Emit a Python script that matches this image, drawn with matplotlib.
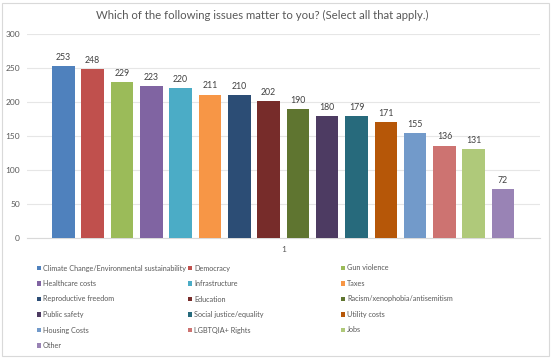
import matplotlib
matplotlib.use("Agg")
import matplotlib.pyplot as plt
from matplotlib.patches import Rectangle

categories = ["Climate Change/Environmental sustainability", "Democracy", "Gun violence",
              "Healthcare costs", "Infrastructure", "Taxes",
              "Reproductive freedom", "Education", "Racism/xenophobia/antisemitism",
              "Public safety", "Social justice/equality", "Utility costs",
              "Housing Costs", "LGBTQIA+ Rights", "Jobs", "Other"]
values = [253, 248, 229, 223, 220, 211, 210, 202, 190, 180, 179, 171, 155, 136, 131, 72]
colors = ["#4F81BD", "#C0504D", "#9BBB59", "#8064A2", "#4BACC6", "#F79646",
          "#2C4D75", "#772C2A", "#5F7530", "#4D3B62", "#276A7C", "#B65708",
          "#729ACA", "#CD7371", "#AFC97A", "#9983B5"]
yticks = [0, 50, 100, 150, 200, 250, 300]
title = "Which of the following issues matter to you? (Select all that apply.)"

plt.rcParams['font.family'] = ['Lato', 'DejaVu Sans']
W, H = 552, 358
fig = plt.figure(figsize=(W/100, H/100), dpi=100)
fig.patches.append(Rectangle((2/W, 2/H), 1-5/W, 1-5/H, transform=fig.transFigure,
                             fill=False, edgecolor="#D9D9D9", linewidth=0.8))

ax = fig.add_axes([27/W, (H-238)/H, (540-27)/W, (238-34)/H])
x = list(range(len(values)))
ax.bar(x, values, width=0.77, color=colors, zorder=3)
for xi, v in zip(x, values):
    ax.text(xi, v + 6, str(v), ha="center", va="bottom", fontsize=6.3, color="#404040")
ax.set_xlim(-1.24, 16.26)
ax.set_ylim(0, 300)
ax.set_yticks(yticks)
ax.set_yticklabels([str(t) for t in yticks], fontsize=6.0, color="#595959")
ax.tick_params(axis="y", length=0, pad=5)
ax.set_xticks([7.5])
ax.set_xticklabels(["1"], fontsize=6.0, color="#595959")
ax.tick_params(axis="x", length=0, pad=6)
ax.grid(axis="y", color="#E6E6E6", linewidth=0.8, zorder=0)
for s in ["top", "right", "left"]:
    ax.spines[s].set_visible(False)
ax.spines["bottom"].set_color("#D9D9D9")
ax.spines["bottom"].set_linewidth(0.8)

fig.text(262/W, (H-15)/H, title, ha="center", va="center", fontsize=8.2, color="#595959")

# legend laid out in rows of three, like the reference
col_x = [37, 188, 341]
row_y = [268, 283.5, 299, 314.5, 330, 345.5]
for i, (lab, c) in enumerate(zip(categories, colors)):
    r, k = divmod(i, 3)
    mx, my = col_x[k], row_y[r]
    fig.patches.append(Rectangle((mx/W, (H-my-2.2)/H), 4.4/W, 4.4/H,
                                 transform=fig.transFigure, facecolor=c, edgecolor="none"))
    fig.text((mx+6)/W, (H-my)/H, lab, ha="left", va="center", fontsize=5.2, color="#595959")

fig.savefig("out.png", dpi=100)
